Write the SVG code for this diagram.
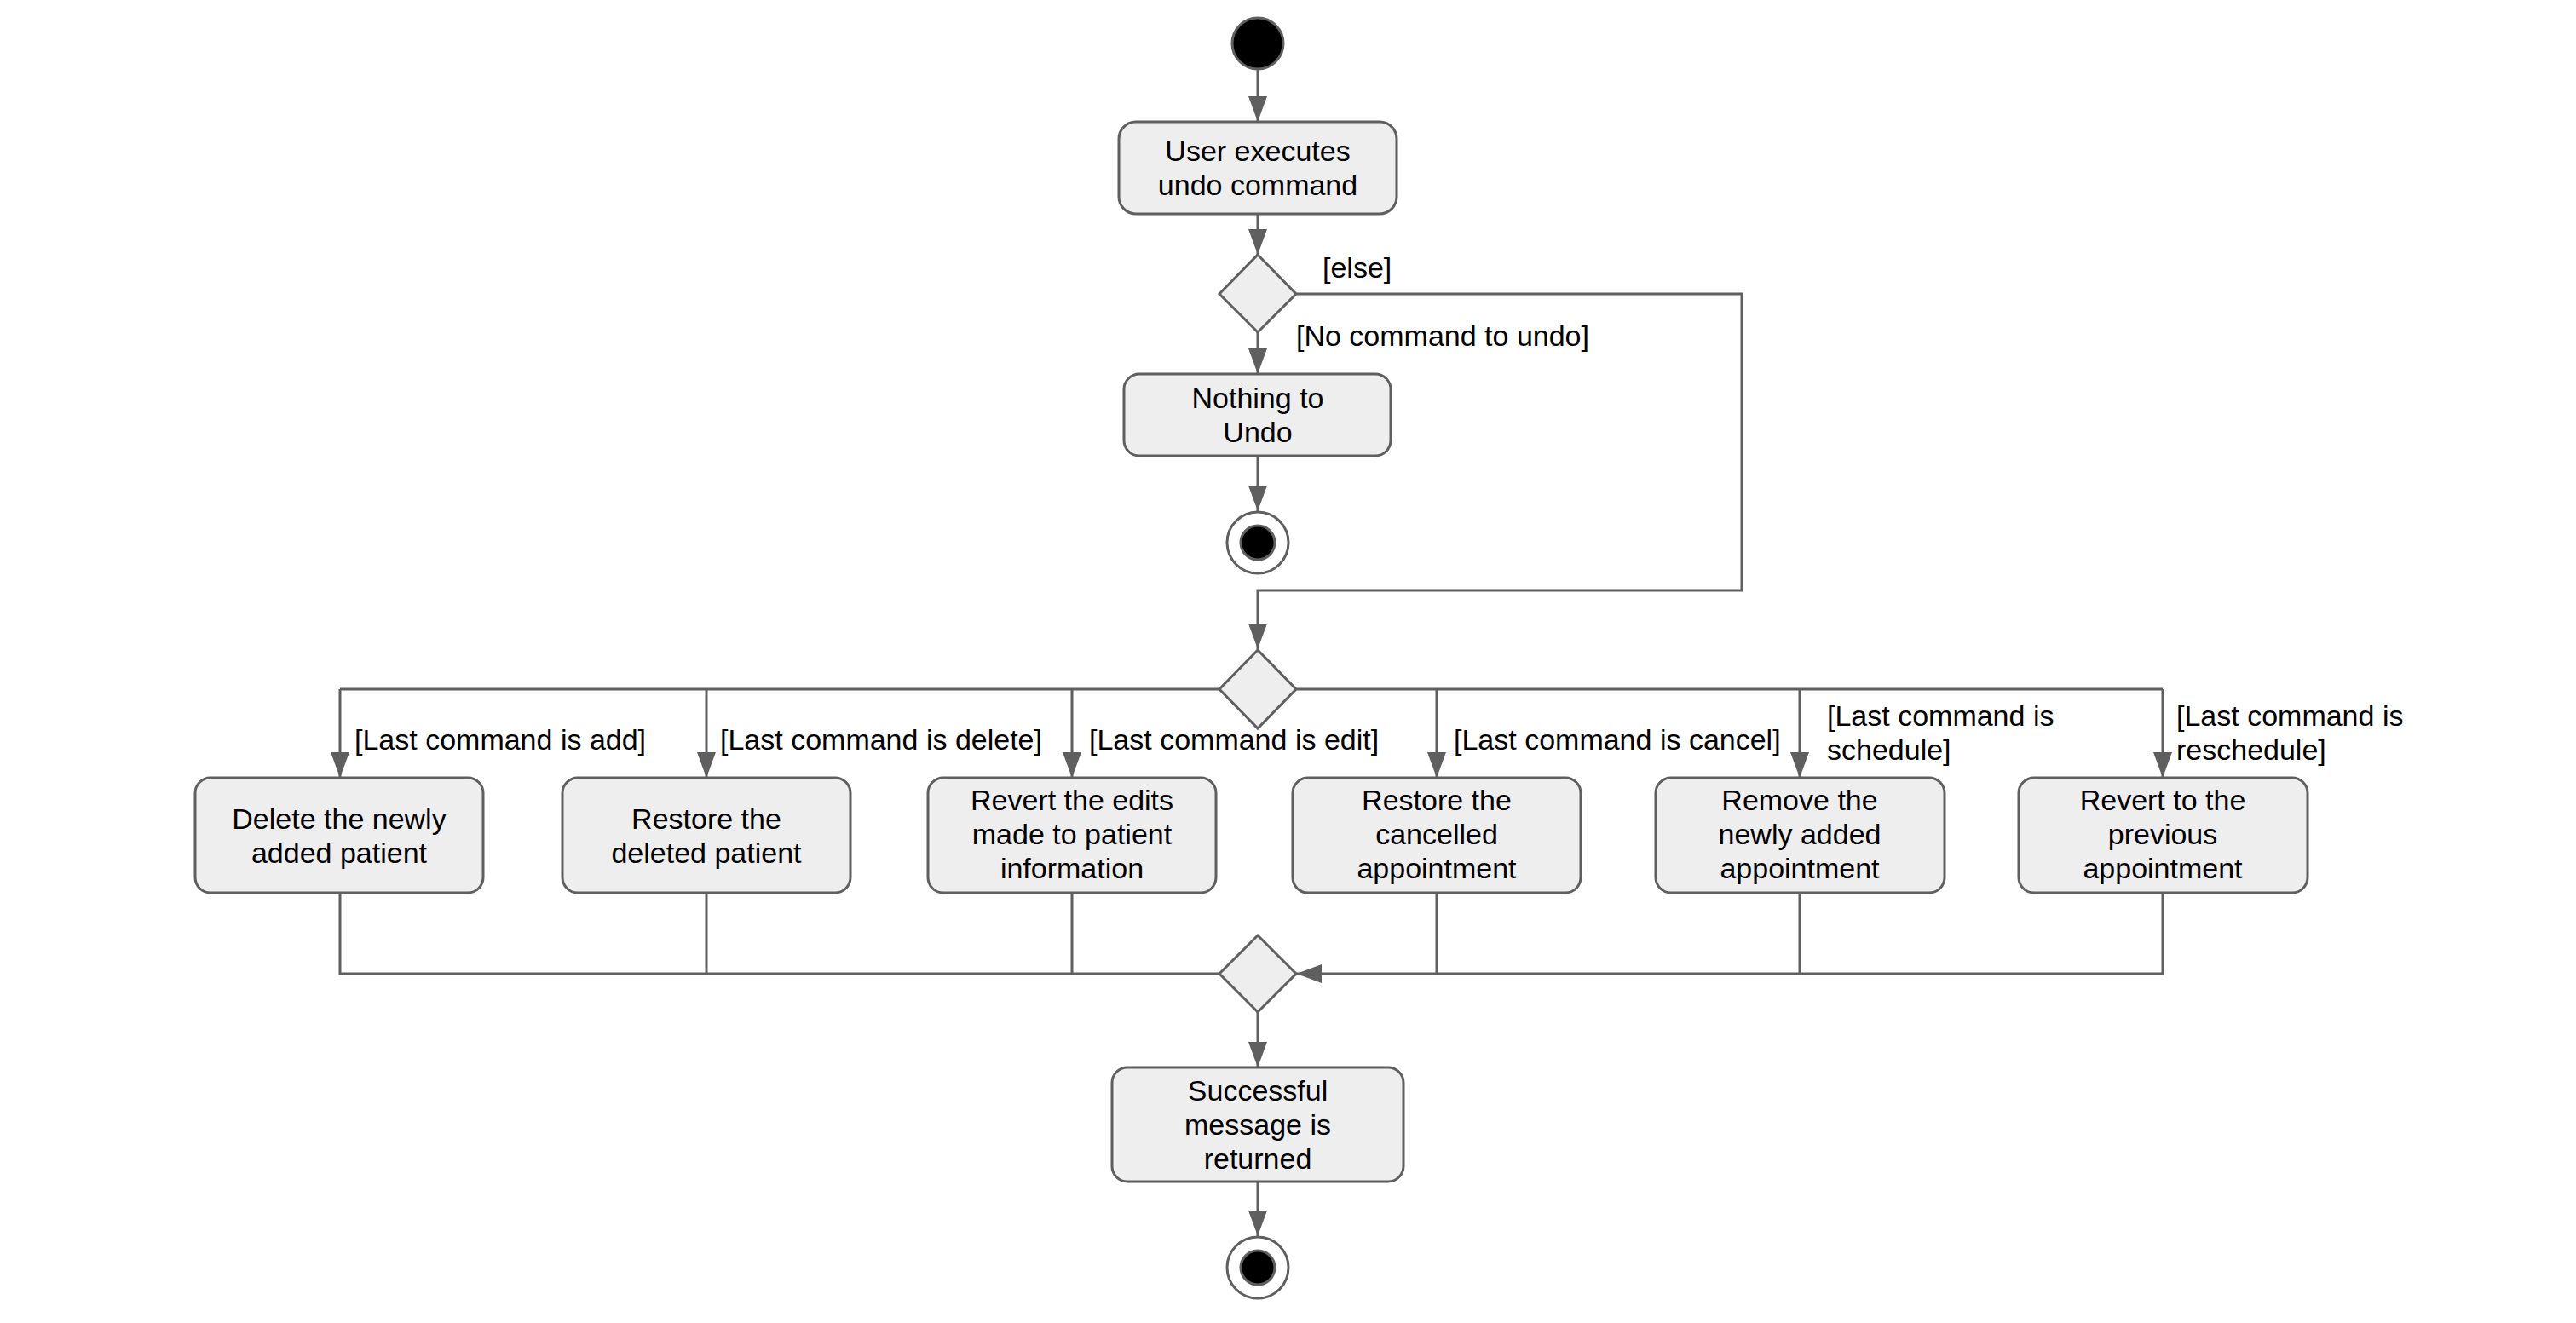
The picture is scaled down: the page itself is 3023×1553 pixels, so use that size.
<svg xmlns="http://www.w3.org/2000/svg" width="3023" height="1553" viewBox="0 0 3023 1553">
<style>
.bg{fill:#ffffff}
.act{fill:#eeeeee;stroke:#5f5f5f;stroke-width:3}
.dec{fill:#eeeeee;stroke:#5f5f5f;stroke-width:3}
.ln{fill:none;stroke:#5f5f5f;stroke-width:3}
.t{font-family:"Liberation Sans",Arial,sans-serif;font-size:34px;fill:#000000}
.c{text-anchor:middle}
.start{fill:#000000;stroke:#5f5f5f;stroke-width:3}
.ring{fill:#ffffff;stroke:#5f5f5f;stroke-width:3}
</style>
<defs>
<marker id="ah" markerUnits="userSpaceOnUse" markerWidth="32" markerHeight="24" refX="30" refY="11" orient="auto">
<path d="M0,0 L30,11 L0,22 z" fill="#5f5f5f"/>
</marker>
</defs>
<rect class="bg" x="0" y="0" width="3023" height="1553"/>

<g id="connectors">
<line class="ln" x1="1476" y1="82" x2="1476" y2="143" marker-end="url(#ah)"/>
<line class="ln" x1="1476" y1="251" x2="1476" y2="299" marker-end="url(#ah)"/>
<line class="ln" x1="1476" y1="390" x2="1476" y2="439" marker-end="url(#ah)"/>
<line class="ln" x1="1476" y1="535" x2="1476" y2="600" marker-end="url(#ah)"/>
<path class="ln" d="M1521,345 H2044 V693 H1476 V762" marker-end="url(#ah)"/>
<line class="ln" x1="399" y1="809" x2="2538" y2="809"/>
<line class="ln" x1="399" y1="809" x2="399" y2="913" marker-end="url(#ah)"/>
<line class="ln" x1="829" y1="809" x2="829" y2="913" marker-end="url(#ah)"/>
<line class="ln" x1="1258" y1="809" x2="1258" y2="913" marker-end="url(#ah)"/>
<line class="ln" x1="1686" y1="809" x2="1686" y2="913" marker-end="url(#ah)"/>
<line class="ln" x1="2112" y1="809" x2="2112" y2="913" marker-end="url(#ah)"/>
<line class="ln" x1="2538" y1="809" x2="2538" y2="913" marker-end="url(#ah)"/>
<path class="ln" d="M399,1048 V1143 H1431"/>
<line class="ln" x1="829" y1="1048" x2="829" y2="1143"/>
<line class="ln" x1="1258" y1="1048" x2="1258" y2="1143"/>
<path class="ln" d="M2538,1048 V1143 H1521" marker-end="url(#ah)"/>
<line class="ln" x1="1686" y1="1048" x2="1686" y2="1143"/>
<line class="ln" x1="2112" y1="1048" x2="2112" y2="1143"/>
<line class="ln" x1="1476" y1="1188" x2="1476" y2="1253" marker-end="url(#ah)"/>
<line class="ln" x1="1476" y1="1387" x2="1476" y2="1451" marker-end="url(#ah)"/>
<text class="t" x="1552" y="326">[else]</text>
<text class="t" x="1521" y="406">[No command to undo]</text>
<text class="t" x="416" y="880">[Last command is add]</text>
<text class="t" x="845" y="880">[Last command is delete]</text>
<text class="t" x="1278" y="880">[Last command is edit]</text>
<text class="t" x="1706" y="880">[Last command is cancel]</text>
<text class="t" x="2144" y="852">[Last command is</text>
<text class="t" x="2144" y="892">schedule]</text>
<text class="t" x="2554" y="852">[Last command is</text>
<text class="t" x="2554" y="892">reschedule]</text>
</g>

<g id="start"><circle class="start" cx="1476" cy="51" r="30"/></g>

<g id="userExecutes">
<rect class="act" x="1313" y="143" width="326" height="108" rx="20"/>
<text class="t c" x="1476" y="189">User executes</text>
<text class="t c" x="1476" y="229">undo command</text>
</g>

<g id="decision1"><polygon class="dec" points="1476,299 1521,345 1476,390 1431,345"/></g>

<g id="nothingToUndo">
<rect class="act" x="1319" y="439" width="313" height="96" rx="18"/>
<text class="t c" x="1476" y="479">Nothing to</text>
<text class="t c" x="1476" y="519">Undo</text>
</g>

<g id="end1">
<circle class="ring" cx="1476" cy="637" r="36"/>
<circle class="start" cx="1476" cy="637" r="20"/>
</g>

<g id="decision2"><polygon class="dec" points="1476,763 1521,809 1476,855 1431,809"/></g>

<g id="undoAdd">
<rect class="act" x="229" y="913" width="338" height="135" rx="18"/>
<text class="t c" x="398" y="973">Delete the newly</text>
<text class="t c" x="398" y="1013">added patient</text>
</g>

<g id="undoDelete">
<rect class="act" x="660" y="913" width="338" height="135" rx="18"/>
<text class="t c" x="829" y="973">Restore the</text>
<text class="t c" x="829" y="1013">deleted patient</text>
</g>

<g id="undoEdit">
<rect class="act" x="1089" y="913" width="338" height="135" rx="18"/>
<text class="t c" x="1258" y="951">Revert the edits</text>
<text class="t c" x="1258" y="991">made to patient</text>
<text class="t c" x="1258" y="1031">information</text>
</g>

<g id="undoCancel">
<rect class="act" x="1517" y="913" width="338" height="135" rx="18"/>
<text class="t c" x="1686" y="951">Restore the</text>
<text class="t c" x="1686" y="991">cancelled</text>
<text class="t c" x="1686" y="1031">appointment</text>
</g>

<g id="undoSchedule">
<rect class="act" x="1943" y="913" width="339" height="135" rx="18"/>
<text class="t c" x="2112" y="951">Remove the</text>
<text class="t c" x="2112" y="991">newly added</text>
<text class="t c" x="2112" y="1031">appointment</text>
</g>

<g id="undoReschedule">
<rect class="act" x="2369" y="913" width="339" height="135" rx="18"/>
<text class="t c" x="2538" y="951">Revert to the</text>
<text class="t c" x="2538" y="991">previous</text>
<text class="t c" x="2538" y="1031">appointment</text>
</g>

<g id="merge"><polygon class="dec" points="1476,1098 1521,1143 1476,1188 1431,1143"/></g>

<g id="successMessage">
<rect class="act" x="1305" y="1253" width="342" height="134" rx="18"/>
<text class="t c" x="1476" y="1292">Successful</text>
<text class="t c" x="1476" y="1332">message is</text>
<text class="t c" x="1476" y="1372">returned</text>
</g>

<g id="end2">
<circle class="ring" cx="1476" cy="1488" r="36"/>
<circle class="start" cx="1476" cy="1488" r="20"/>
</g>
</svg>
